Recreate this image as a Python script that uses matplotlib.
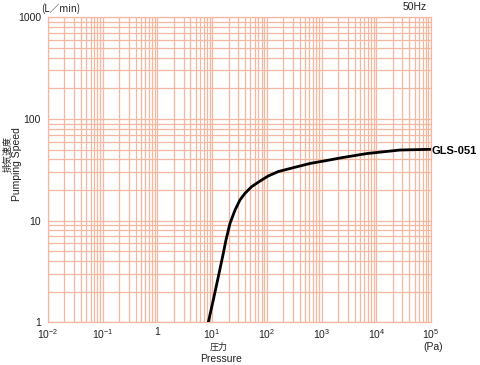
import matplotlib
matplotlib.use("Agg")
import numpy as np
import matplotlib.pyplot as plt
from matplotlib.ticker import LogLocator, NullFormatter, FixedLocator

# pumping speed curve (Pa, L/min)
pressure = [8.51, 10.5, 12.97, 16.0, 17.9, 21.2, 26.2, 32.3, 39.9, 52.8, 75, 106, 162,
            313, 615, 1259, 2466, 6776, 27160, 100000]
speed = [1.0, 1.66, 2.81, 4.77, 6.45, 9.4, 12.7, 16.0, 18.6, 21.6, 24.5, 27.5, 30.4,
         33.3, 36.5, 39.1, 41.8, 45.7, 49.5, 50.3]

x_ticks = [1e-2, 1e-1, 1, 1e1, 1e2, 1e3, 1e4, 1e5]
x_labels = ["10$^{-2}$", "10$^{-1}$", "1", "10$^{1}$", "10$^{2}$", "10$^{3}$", "10$^{4}$", "10$^{5}$"]
y_ticks = [1, 10, 100, 1000]
y_labels = ["1", "10", "100", "1000"]

plt.rcParams["mathtext.fontset"] = "custom"
plt.rcParams["mathtext.rm"] = "Liberation Sans"
plt.rcParams["mathtext.it"] = "Liberation Sans"
plt.rcParams["mathtext.default"] = "rm"

grid_color = "#f5b79f"
jp = ["Noto Sans CJK JP", "DejaVu Sans"]
txt = ["Liberation Sans", "DejaVu Sans"]
ink = "#222222"

fig = plt.figure(figsize=(4.8, 3.65), dpi=100)
ax = fig.add_axes([48 / 480, 1 - 322.3 / 365, (431 - 48) / 480, (322.3 - 17.3) / 365])
ax.set_xscale("log")
ax.set_yscale("log")
ax.set_xlim(1e-2, 1e5)
ax.set_ylim(1, 1000)

ax.xaxis.set_major_locator(FixedLocator(x_ticks))
ax.yaxis.set_major_locator(FixedLocator(y_ticks))
ax.xaxis.set_minor_locator(LogLocator(base=10, subs=np.arange(2, 10), numticks=20))
ax.yaxis.set_minor_locator(LogLocator(base=10, subs=np.arange(2, 10), numticks=20))
ax.xaxis.set_minor_formatter(NullFormatter())
ax.yaxis.set_minor_formatter(NullFormatter())
ax.set_xticklabels(x_labels, family=txt, fontsize=7.5, color=ink)
ax.set_yticklabels(y_labels, family=txt, fontsize=7.5, color=ink)
ax.tick_params(which="both", length=0)
ax.tick_params(axis="x", pad=3.5)
ax.tick_params(axis="y", pad=5)

ax.grid(which="both", color=grid_color, linewidth=0.9)
ax.set_axisbelow(True)
for s in ax.spines.values():
    s.set_color(grid_color)
    s.set_linewidth(0.9)

ax.plot(pressure, speed, color="black", linewidth=2.0, solid_joinstyle="round",
        solid_capstyle="butt", zorder=5)

fig.text(432 / 480, 1 - 151 / 365, "GLS-051", family=txt, fontsize=8, fontweight="bold",
         va="center", ha="left")
fig.text(41 / 480, 1 - 9 / 365, "(L／min)", family=jp, fontsize=7, va="center", ha="left",
         color=ink)
fig.text(427 / 480, 1 - 7 / 365, "50Hz", family=txt, fontsize=7.5, va="center", ha="right",
         color=ink)
fig.text(433 / 480, 1 - 347 / 365, "(Pa)", family=txt, fontsize=7.5, va="center", ha="center",
         color=ink)
fig.text(219 / 480, 1 - 347 / 365, "圧力", family=jp, fontsize=6.5, va="center", ha="center",
         color=ink)
fig.text(221 / 480, 1 - 358.5 / 365, "Pressure", family=txt, fontsize=7.5, va="center",
         ha="center", color=ink)
fig.text(8 / 480, 1 - 154 / 365, "排気速度", family=jp, fontsize=6.5, va="center", ha="center",
         rotation=90, color=ink)
fig.text(17 / 480, 1 - 164 / 365, "Pumping Speed", family=txt, fontsize=7.5, va="center",
         ha="center", rotation=90, color=ink)

fig.savefig("out.png", dpi=100)
